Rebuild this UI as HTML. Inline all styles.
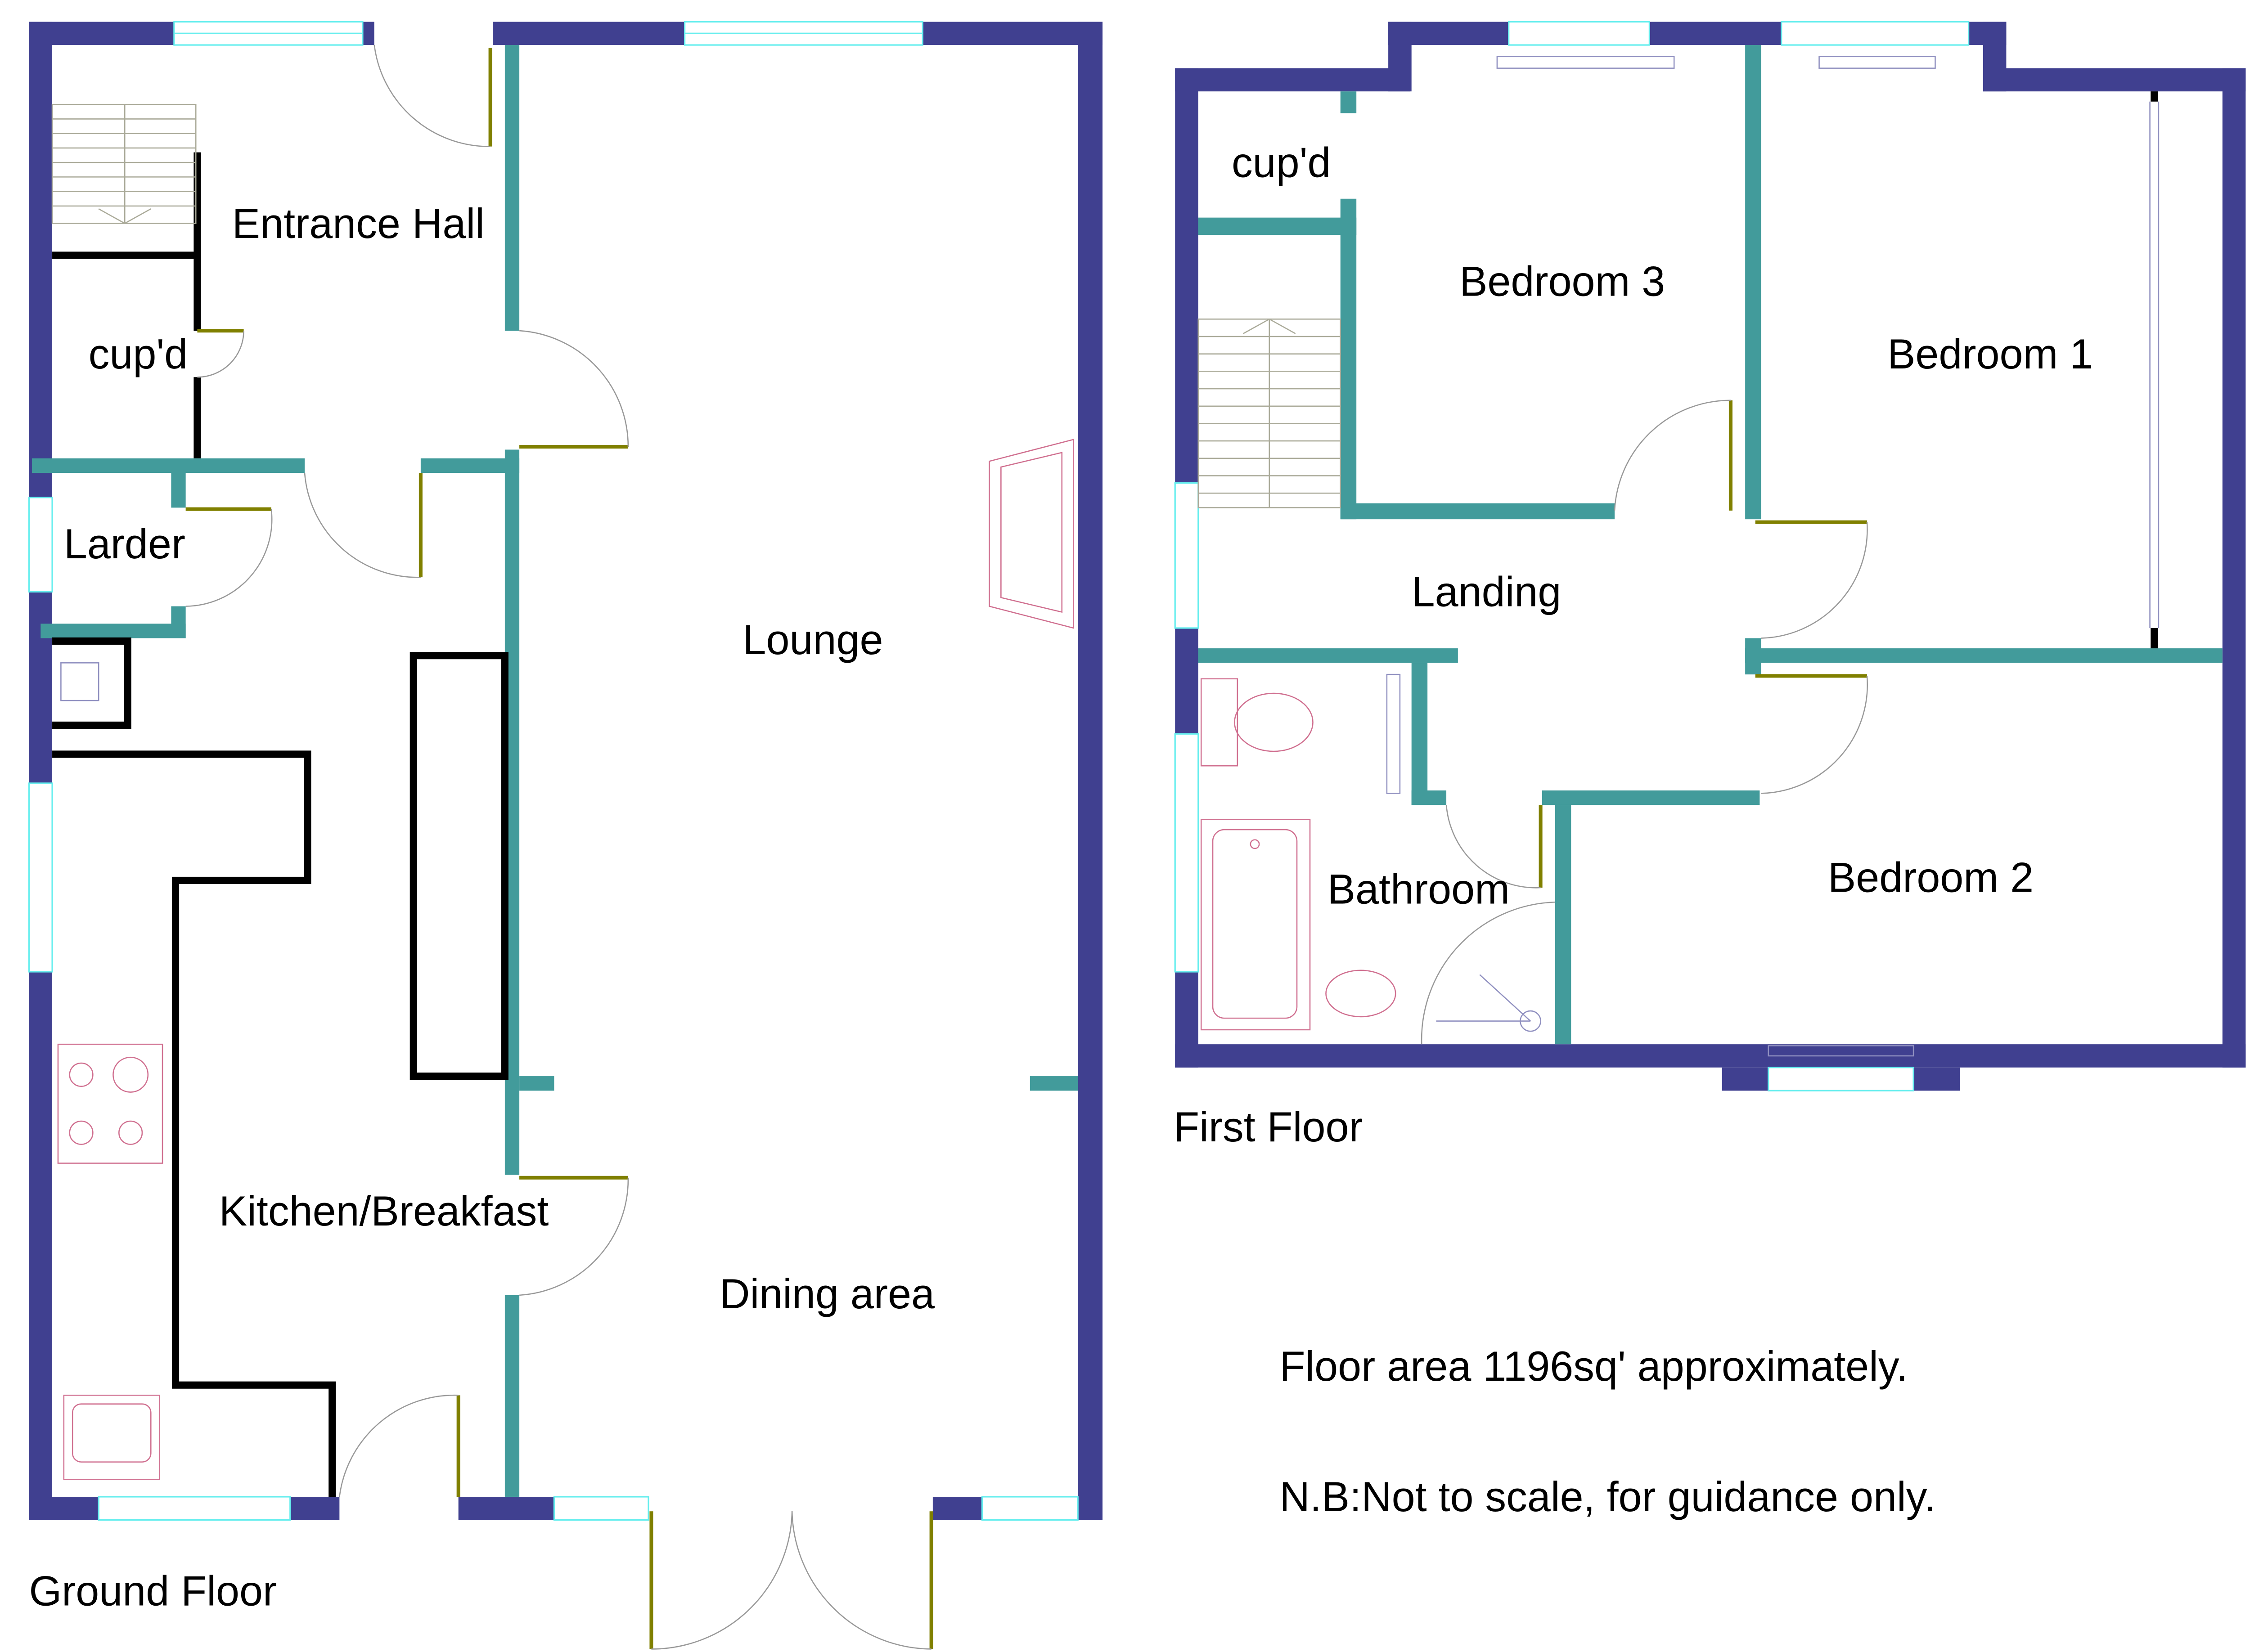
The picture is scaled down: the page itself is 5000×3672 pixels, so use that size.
<!DOCTYPE html>
<html><head><meta charset="utf-8"><style>html,body{margin:0;padding:0;background:#fff}svg{display:block}</style></head><body>
<svg width="5000" height="3672" viewBox="0 0 1551 1139" xmlns="http://www.w3.org/2000/svg" font-family="Liberation Sans, sans-serif">
<rect width="1551" height="1139" fill="#fff"/>
<g fill="#404090">
<rect x="20" y="15" width="16" height="328"/><rect x="20" y="408" width="16" height="132"/><rect x="20" y="670" width="16" height="378"/>
<rect x="20" y="15" width="100" height="16"/><rect x="250" y="15" width="8" height="16"/><rect x="340" y="15" width="132" height="16"/><rect x="636" y="15" width="124" height="16"/>
<rect x="743" y="15" width="17" height="1033"/>
<rect x="20" y="1032" width="48" height="16"/><rect x="200" y="1032" width="34" height="16"/><rect x="316" y="1032" width="66" height="16"/><rect x="643" y="1032" width="34" height="16"/>
<rect x="810" y="47" width="162" height="16"/><rect x="957" y="15" width="16" height="48"/><rect x="957" y="15" width="83" height="16"/><rect x="1137" y="15" width="91" height="16"/><rect x="1357" y="15" width="26" height="16"/>
<rect x="1367" y="15" width="16" height="48"/><rect x="1367" y="47" width="181" height="16"/><rect x="1532" y="47" width="16" height="689"/>
<rect x="810" y="720" width="738" height="16"/><rect x="1187" y="736" width="32" height="16"/><rect x="1319" y="736" width="32" height="16"/>
<rect x="810" y="47" width="16" height="286"/><rect x="810" y="433" width="16" height="73"/><rect x="810" y="670" width="16" height="66"/>
</g>
<g fill="none" stroke="#6ee" stroke-width="1">
<rect x="120" y="15" width="130" height="16"/><line x1="120" y1="23" x2="250" y2="23"/>
<rect x="472" y="15" width="164" height="16"/><line x1="472" y1="23" x2="636" y2="23"/>
<rect x="20" y="343" width="16" height="65"/><rect x="20" y="540" width="16" height="130"/>
<rect x="68" y="1032" width="132" height="16"/><rect x="382" y="1032" width="65" height="16"/><rect x="677" y="1032" width="66" height="16"/>
<rect x="1040" y="15" width="97" height="16"/><rect x="1228" y="15" width="129" height="16"/><rect x="1219" y="736" width="100" height="16"/>
<rect x="810" y="333" width="16" height="100"/><rect x="810" y="506" width="16" height="164"/>
</g>
<g fill="#429b9b">
<rect x="348" y="31" width="10" height="197"/><rect x="348" y="310" width="10" height="500"/><rect x="348" y="893" width="10" height="139"/>
<rect x="358" y="742" width="24" height="10"/><rect x="710" y="742" width="33" height="10"/>
<rect x="22" y="316" width="188" height="10"/><rect x="290" y="316" width="68" height="10"/>
<rect x="118" y="326" width="10" height="24"/><rect x="28" y="430" width="100" height="10"/><rect x="118" y="418" width="10" height="22"/>
<rect x="826" y="150" width="109" height="12"/><rect x="924" y="137" width="11" height="221"/><rect x="924" y="347" width="189" height="11"/><rect x="924" y="63" width="11" height="15"/>
<rect x="1203" y="31" width="11" height="327"/><rect x="826" y="447" width="179" height="10"/><rect x="973" y="457" width="11" height="98"/><rect x="973" y="545" width="24" height="10"/>
<rect x="1063" y="545" width="150" height="10"/><rect x="1072" y="555" width="11" height="165"/><rect x="1203" y="447" width="329" height="10"/><rect x="1203" y="440" width="11" height="25"/>
</g>
<g fill="none" stroke="#000" stroke-width="5">
<line x1="36" y1="176" x2="136" y2="176"/><line x1="136" y1="105" x2="136" y2="228"/><line x1="136" y1="260" x2="136" y2="316"/>
<polyline points="36,442 88,442 88,500 36,500"/>
<polyline points="36,520 212,520 212,607 121,607 121,955 229,955 229,1032"/>
<rect x="285" y="452" width="63" height="290"/>
<line x1="1485" y1="63" x2="1485" y2="70"/><line x1="1485" y1="433" x2="1485" y2="447"/>
</g>
<g fill="none" stroke="#808000" stroke-width="2.5">
<line x1="338" y1="33" x2="338" y2="101"/><line x1="358" y1="308" x2="433" y2="308"/><line x1="128" y1="351" x2="187" y2="351"/><line x1="290" y1="326" x2="290" y2="398"/>
<line x1="136" y1="228" x2="168" y2="228"/><line x1="358" y1="812" x2="433" y2="812"/><line x1="316" y1="962" x2="316" y2="1032"/>
<line x1="449" y1="1042" x2="449" y2="1137"/><line x1="642" y1="1042" x2="642" y2="1137"/>
<line x1="1193" y1="276" x2="1193" y2="352"/><line x1="1210" y1="360" x2="1287" y2="360"/><line x1="1210" y1="466" x2="1287" y2="466"/><line x1="1062" y1="555" x2="1062" y2="612"/>
</g>
<g fill="none" stroke="#999" stroke-width="0.8">
<path d="M258,31 A80,80 0 0 0 338,101"/><path d="M358,228 A80,80 0 0 1 433,308"/><path d="M136,260 A32,32 0 0 0 168,228"/>
<path d="M128,418 A60,60 0 0 0 187,351"/><path d="M210,326 A78,78 0 0 0 290,398"/><path d="M358,893 A80,80 0 0 0 433,812"/>
<path d="M234,1032 A80,80 0 0 1 316,962"/><path d="M449,1137 A97,97 0 0 0 546,1042"/><path d="M642,1137 A97,97 0 0 1 546,1042"/>
<path d="M1113,352 A80,80 0 0 1 1193,276"/><path d="M1214,440 A75,75 0 0 0 1287,360"/><path d="M1214,547 A75,75 0 0 0 1287,466"/><path d="M997,555 A62,62 0 0 0 1062,612"/>
<path d="M980,720 A95,95 0 0 1 1072,622"/>
</g>
<g fill="none" stroke="#aa9" stroke-width="0.8">
<rect x="36" y="72" width="99" height="82"/><line x1="86" y1="72" x2="86" y2="154"/>
<path d="M36,82H135M36,92H135M36,102H135M36,112H135M36,122H135M36,132H135M36,142H135"/><polyline points="68,144 86,154 104,144"/>
<rect x="826" y="220" width="98" height="130"/><path d="M826,232H924M826,244H924M826,256H924M826,268H924M826,280H924M826,292H924M826,304H924M826,316H924M826,328H924M826,340H924"/><line x1="875" y1="220" x2="875" y2="350"/><polyline points="857,230 875,220 893,230"/>
</g>
<g fill="none" stroke="#d07090" stroke-width="0.8">
<polygon points="682,318 740,303 740,433 682,418"/><polygon points="690,322 732,312 732,422 690,412"/>
<rect x="40" y="720" width="72" height="82"/><circle cx="56" cy="741" r="8"/><circle cx="90" cy="741" r="12"/><circle cx="56" cy="781" r="8"/><circle cx="90" cy="781" r="8"/>
<rect x="44" y="962" width="66" height="58"/><rect x="50" y="968" width="54" height="40" rx="6"/>
<rect x="828" y="468" width="25" height="60"/><ellipse cx="878" cy="498" rx="27" ry="20"/>
<rect x="828" y="565" width="75" height="145"/><rect x="836" y="572" width="58" height="130" rx="8"/><circle cx="865" cy="582" r="3"/>
<ellipse cx="938" cy="685" rx="24" ry="16"/>
</g>
<g fill="none" stroke="#9090c0" stroke-width="0.8">
<rect x="42" y="457" width="26" height="26"/><rect x="956" y="465" width="9" height="82"/>
<rect x="1032" y="39" width="122" height="8"/><rect x="1254" y="39" width="80" height="8"/><rect x="1219" y="721" width="100" height="7"/>
<line x1="1482" y1="70" x2="1482" y2="433"/><line x1="1488" y1="70" x2="1488" y2="433"/>
<line x1="990" y1="704" x2="1055" y2="704"/><circle cx="1055" cy="704" r="7"/><line x1="1020" y1="672" x2="1055" y2="704"/>
</g>
<g font-size="29" fill="#000">
<text x="160" y="164">Entrance Hall</text><text x="61" y="254">cup'd</text><text x="44" y="385">Larder</text>
<text x="512" y="451">Lounge</text><text x="151" y="845">Kitchen/Breakfast</text><text x="496" y="902">Dining area</text>
<text x="20" y="1107">Ground Floor</text>
<text x="849" y="122">cup'd</text><text x="1006" y="204">Bedroom 3</text><text x="1301" y="254">Bedroom 1</text>
<text x="973" y="418">Landing</text><text x="915" y="623">Bathroom</text><text x="1260" y="615">Bedroom 2</text>
<text x="809" y="787">First Floor</text>
<text x="882" y="952">Floor area 1196sq' approximately.</text>
<text x="882" y="1042">N.B:Not to scale, for guidance only.</text>
</g>
</svg>
</body></html>
